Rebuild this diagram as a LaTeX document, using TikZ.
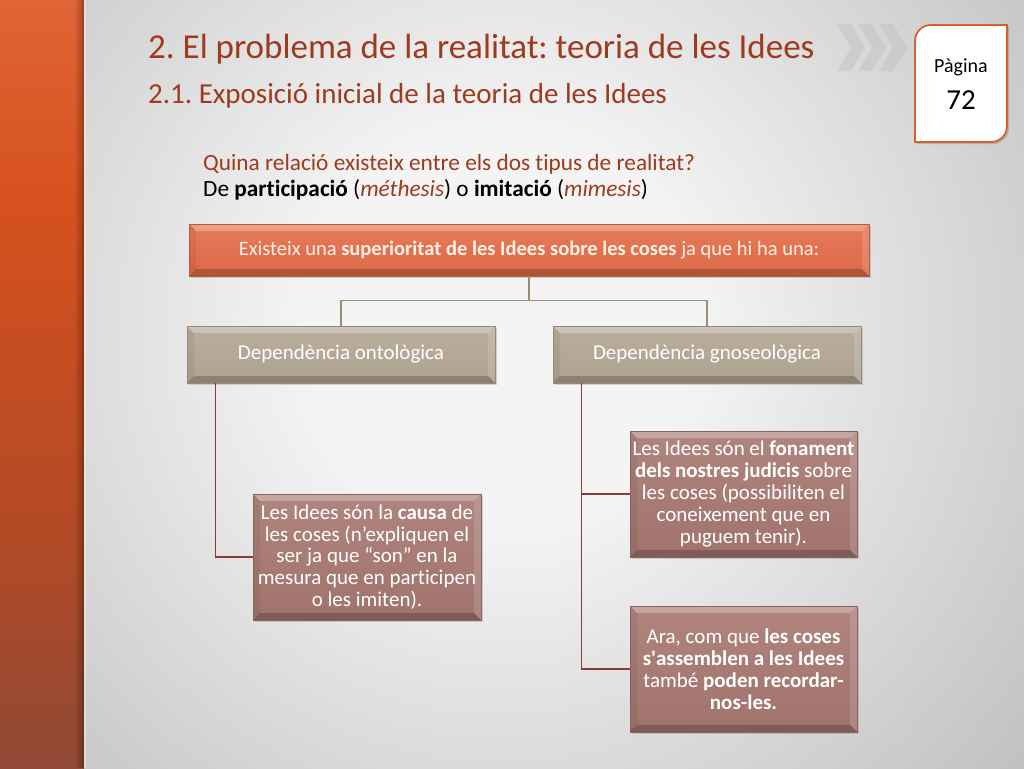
\documentclass[tikz,border=0pt]{standalone}
\usepackage{fontspec}
\setmainfont{Carlito}[Ligatures={TeX,NoCommon}]
\usetikzlibrary{shadows}
\frenchspacing
\definecolor{titlec}{HTML}{9E3A1E}
\definecolor{bgin}{HTML}{F4F4F4}
\definecolor{bgout}{HTML}{888888}
\definecolor{barA}{HTML}{5E4650}
\definecolor{barB}{HTML}{8A4838}
\definecolor{barC}{HTML}{B44A25}
\definecolor{barD}{HTML}{D6511E}
\definecolor{barE}{HTML}{EA784F}
\definecolor{barF}{HTML}{F29070}
\definecolor{topfillA}{HTML}{E57B5B}
\definecolor{topfillB}{HTML}{DC6946}
\definecolor{tanA}{HTML}{BAAE9D}
\definecolor{tanB}{HTML}{AEA190}
\definecolor{roseA}{HTML}{B0857E}
\definecolor{roseB}{HTML}{A0736C}
\definecolor{treec}{HTML}{9C8C70}
\definecolor{redc}{HTML}{8B3A3A}
\definecolor{pagec}{HTML}{D9602E}
\pgfdeclareradialshading{bgshade}{\pgfpoint{0bp}{0bp}}{color(0bp)=(bgin); color(8bp)=(bgin); color(50bp)=(bgout)}
\pgfdeclareverticalshading{barshade}{100bp}{color(0bp)=(barA); color(22bp)=(barB); color(41bp)=(barC); color(62bp)=(barD); color(88bp)=(barE); color(100bp)=(barF)}
\newcommand{\mybevel}{%
  \fill[white,opacity=.28] (path picture bounding box.north west) -- (path picture bounding box.north east) -- ([xshift=-7pt,yshift=-7pt]path picture bounding box.north east) -- ([xshift=7pt,yshift=-7pt]path picture bounding box.north west) -- cycle;
  \fill[white,opacity=.14] (path picture bounding box.north east) -- (path picture bounding box.south east) -- ([xshift=-7pt,yshift=7pt]path picture bounding box.south east) -- ([xshift=-7pt,yshift=-7pt]path picture bounding box.north east) -- cycle;
  \fill[black,opacity=.06] (path picture bounding box.north west) -- (path picture bounding box.south west) -- ([xshift=7pt,yshift=7pt]path picture bounding box.south west) -- ([xshift=7pt,yshift=-7pt]path picture bounding box.north west) -- cycle;
  \fill[black,opacity=.2] (path picture bounding box.south west) -- (path picture bounding box.south east) -- ([xshift=-7pt,yshift=7pt]path picture bounding box.south east) -- ([xshift=7pt,yshift=7pt]path picture bounding box.south west) -- cycle;
}
\tikzset{
  bevelbox/.style={rectangle, inner sep=2pt, align=flush center, line width=.8pt,
    drop shadow={opacity=.3, shadow xshift=1.5pt, shadow yshift=-2pt},
    path picture={\mybevel}},
  topbox/.style={bevelbox, top color=topfillA, bottom color=topfillB, draw=topfillB!85!black,
    text=white!90!orange, minimum width=680pt, minimum height=52pt,
    font=\fontsize{20.5}{22}\selectfont},
  tanbox/.style={bevelbox, top color=tanA, bottom color=tanB, draw=tanB!85!black,
    text=white, minimum width=308pt, minimum height=57pt,
    font=\fontsize{21}{22}\selectfont},
  rosebox/.style={bevelbox, top color=roseA, bottom color=roseB, draw=roseB!85!black,
    text=white, minimum height=126pt, text width=222pt,
    font=\fontsize{21}{21.8}\selectfont},
  treeline/.style={draw=treec, line width=1.3pt},
  redline/.style={draw=redc, line width=1.3pt},
  chev/.style={fill=gray!55, opacity=.35},
}
\begin{document}
\begin{tikzpicture}[x=1pt,y=-1pt]
\useasboundingbox (0,0) rectangle (1024,768);
% background
\fill[bgout] (84,0) rectangle (1024,768);
\begin{scope}
  \clip (84,0) rectangle (1024,768);
  \shade[shading=bgshade] (-110,-280) rectangle (1110,940);
\end{scope}
% left bar
\shade[shading=barshade] (0,0) rectangle (84,768);
\fill[black,opacity=.08] (76,0) rectangle (84,768);
\fill[black,opacity=.1] (79,0) rectangle (84,768);
\fill[black,opacity=.12] (82,0) rectangle (84,768);
\fill[white,opacity=.4] (84,0) rectangle (85.5,768);
% chevrons
\fill[chev] (837,24) -- (851,24) -- (865,47.5) -- (851,71) -- (837,71) -- (851,47.5) -- cycle;
\fill[chev] (858,24) -- (872,24) -- (886,47.5) -- (872,71) -- (858,71) -- (872,47.5) -- cycle;
\fill[chev] (879,24) -- (893,24) -- (907,47.5) -- (893,71) -- (879,71) -- (893,47.5) -- cycle;
% page box
\path[fill=black,opacity=.15] (917,144) -- (917,43) .. controls (917,34) and (924,27) .. (933,27) -- (1009,27) -- (1009,128) .. controls (1009,137) and (1002,144) .. (993,144) -- cycle;
\draw[draw=pagec, line width=1.8pt, fill=white] (915,142) -- (915,41) .. controls (915,32) and (922,25) .. (931,25) -- (1007,25) -- (1007,126) .. controls (1007,135) and (1000,142) .. (991,142) -- cycle;
\node (pag) at (961,67) {\fontsize{20}{22}\selectfont Pàgina};
\node (num) at (961,100) {\fontsize{29}{30}\selectfont 72};
% titles
\node[anchor=base west, inner sep=0pt, text=titlec] (title) at (148,59) {\fontsize{35}{40}\selectfont 2. El problema de la realitat: teoria de les Idees};
\node[anchor=base west, inner sep=0pt, text=titlec] (subtitle) at (148,103) {\fontsize{29}{32}\selectfont 2.1. Exposició inicial de la teoria de les Idees};
\node[anchor=base west, inner sep=0pt, text=titlec] (q1) at (203,170) {\fontsize{23.3}{26}\selectfont Quina relació existeix entre els dos tipus de realitat?};
\node[anchor=base west, inner sep=0pt, text=black] (q2) at (203,196) {\fontsize{23.3}{26}\selectfont De \textbf{participació} (\textit{\textcolor{titlec}{méthesis}}) o \textbf{imitació} (\textit{\textcolor{titlec}{mimesis}})};
% diagram
\node[topbox] (top) at (529,250) {Existeix una \textbf{superioritat de les Idees sobre les coses} ja que hi ha una:};
\node[tanbox] (onto) at (341,354.5) {Dependència ontològica};
\node[tanbox] (gnos) at (707,354.5) {Dependència gnoseològica};
\node[rosebox, minimum width=228pt] (causa) at (367,557) {Les Idees són la \textbf{causa} de\\les coses (n’expliquen el\\ser ja que “son” en la\\mesura que en participen\\o les imiten).};
\node[rosebox, minimum width=227pt] (fonam) at (743.5,494) {Les Idees són el \textbf{fonament}\\\textbf{dels nostres judicis} sobre\\les coses (possibiliten el\\coneixement que en\\puguem tenir).};
\node[rosebox, minimum width=227pt] (ara) at (743.5,669) {Ara, com que \textbf{les coses}\\\textbf{s\textquotesingle assemblen a les Idees}\\també \textbf{poden recordar-}\\\textbf{nos-les.}};
% connectors
\draw[treeline] (top.south) -- ++(0,24) coordinate (j) -| (onto.north);
\draw[treeline] (j) -| (gnos.north);
\draw[redline] ([xshift=29pt]onto.south west) |- (causa.west);
\draw[redline] ([xshift=29pt]gnos.south west) |- (fonam.west);
\draw[redline] ([xshift=29pt]gnos.south west) |- (ara.west);
\end{tikzpicture}
\end{document}
